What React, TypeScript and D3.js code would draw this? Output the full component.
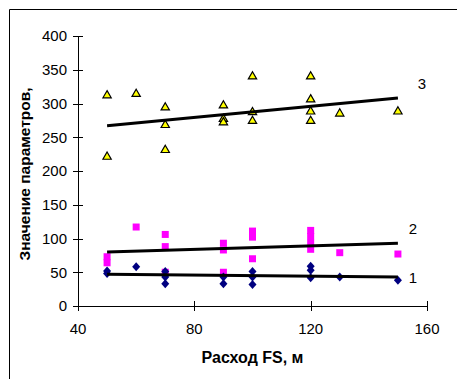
import React from "react";
import * as d3 from "d3";

// Series 1 (diamonds)
const s1X = [50, 50, 60, 70, 70, 70, 90, 90, 100, 100, 100, 120, 120, 120, 130, 150];
const s1Y = [52, 48, 58, 51, 43, 33, 43, 33, 51, 43, 32, 59, 53, 42, 43, 38];
// Series 2 (squares)
const s2X = [50, 50, 60, 70, 70, 70, 90, 90, 90, 100, 100, 100, 120, 120, 120, 120, 130, 150];
const s2Y = [73, 64, 117, 106, 88, 50, 93, 83, 50, 111, 102, 70, 112, 103, 93, 84, 79, 77];
// Series 3 (triangles)
const s3X = [50, 50, 60, 70, 70, 70, 90, 90, 90, 100, 100, 100, 120, 120, 120, 120, 130, 150];
const s3Y = [312, 221, 314, 294, 268, 231, 297, 277, 272, 340, 287, 274, 340, 306, 288, 274, 285, 288];
// Trend lines [x, y]
const trend1 = [[50, 47], [150, 43]];
const trend2 = [[50, 80], [150, 93]];
const trend3 = [[50, 267], [150, 308]];
const trendLabels = ["1", "2", "3"];

const xTicks = [40, 80, 120, 160];
const yTicks = [0, 50, 100, 150, 200, 250, 300, 350, 400];
const xTitle = "Расход FS, м";
const yTitle = "Значение параметров,";

export default function App() {
  const W = 457, H = 379;
  const x = d3.scaleLinear().domain([40, 160]).range([78, 427]);
  const y = d3.scaleLinear().domain([0, 400]).range([306, 36]);
  const line = d3.line<number[]>().x(d => x(d[0])).y(d => y(d[1]));
  const font = "'Liberation Sans', Arial, sans-serif";
  const tri = d3.symbol().type(d3.symbolTriangle).size(30)();
  const sq = "M-3.5,-3.5H3.5V3.5H-3.5Z";
  const dia = "M0,-4.5L4,0L0,4.5L-4,0Z";
  const trends = [trend1, trend2, trend3];
  const labelOff = [[15, 1], [15, -14], [24, -14]];

  return (
    <svg width={W} height={H} style={{ position: "absolute", left: 0, top: 0, background: "#fff" }} fontFamily={font}>
      <rect x={0} y={0} width={W} height={H} fill="#fff" />
      <path d={`M9.5,${H} V9.5 H${W}`} fill="none" stroke="#000" strokeWidth={1} />
      {/* axes */}
      <line x1={x(40)} x2={x(160)} y1={y(0) + 0.5} y2={y(0) + 0.5} stroke="#000" />
      <line x1={x(40) + 0.5} x2={x(40) + 0.5} y1={y(0)} y2={y(400)} stroke="#000" />
      {yTicks.map(t => (
        <g key={"y" + t}>
          <line x1={x(40) - 5} x2={x(40) + 5} y1={Math.round(y(t)) + 0.5} y2={Math.round(y(t)) + 0.5} stroke="#000" />
          <text x={67} y={y(t)} dy="0.35em" textAnchor="end" fontSize={15}>{t}</text>
        </g>
      ))}
      {xTicks.map(t => (
        <g key={"x" + t}>
          <line x1={Math.round(x(t)) + 0.5} x2={Math.round(x(t)) + 0.5} y1={y(0) - 5} y2={y(0) + 5} stroke="#000" />
          <text x={x(t)} y={329} dy="0.35em" textAnchor="middle" fontSize={15}>{t}</text>
        </g>
      ))}
      <text x={(x(40) + x(160)) / 2} y={357} dy="0.35em" textAnchor="middle" fontSize={16} fontWeight="bold">{xTitle}</text>
      <text transform={`translate(25,174) rotate(-90)`} dy="0.35em" textAnchor="middle" fontSize={15.5} fontWeight="bold">{yTitle}</text>
      {/* points */}
      {s3X.map((v, i) => (
        <path key={"t" + i} d={tri} transform={`translate(${x(v)},${y(s3Y[i])})`} fill="#FFFF00" stroke="#000" strokeWidth={1.2} />
      ))}
      {s2X.map((v, i) => (
        <path key={"s" + i} d={sq} transform={`translate(${x(v)},${y(s2Y[i])})`} fill="#FF00FF" />
      ))}
      {s1X.map((v, i) => (
        <path key={"d" + i} d={dia} transform={`translate(${x(v)},${y(s1Y[i])})`} fill="#000080" />
      ))}
      {trends.map((tr, i) => (
        <g key={"tr" + i}>
          <path d={line(tr) || ""} stroke="#000" strokeWidth={3} fill="none" />
          <text x={x(tr[1][0]) + labelOff[i][0]} y={y(tr[1][1]) + labelOff[i][1]} dy="0.35em" textAnchor="middle" fontSize={15}>{trendLabels[i]}</text>
        </g>
      ))}
    </svg>
  );
}
